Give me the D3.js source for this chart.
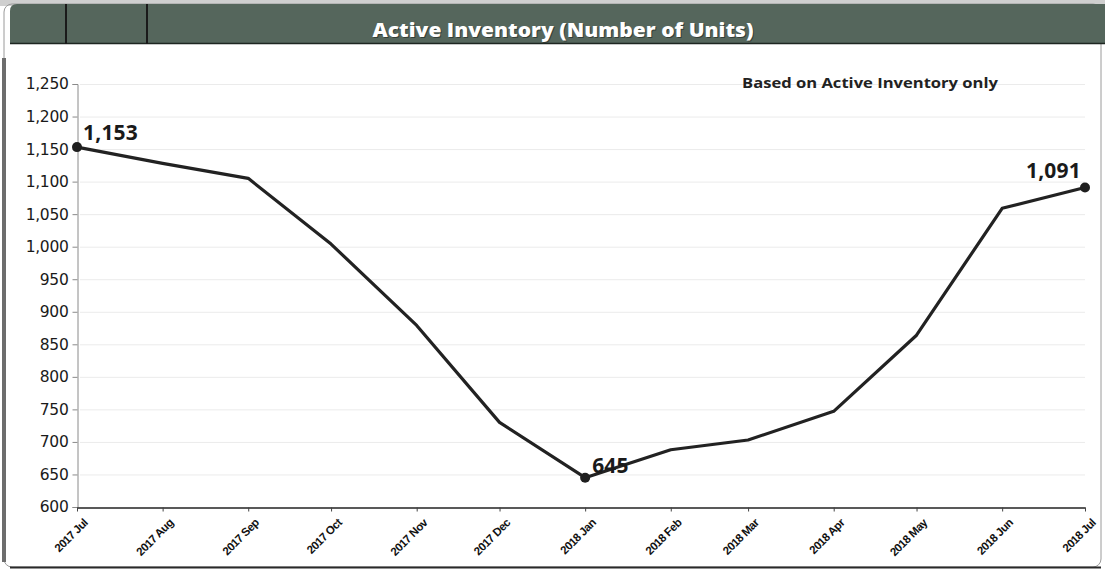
<!DOCTYPE html>
<html>
<head>
<meta charset="utf-8">
<script src="https://cdn.jsdelivr.net/npm/d3@7"></script>
<style>
  html, body { margin: 0; padding: 0; background: #ffffff; }
  svg { display: block; font-family: "Open Sans", "Noto Sans", sans-serif; }
</style>
</head>
<body>
<svg id="chart" width="1105" height="571"></svg>
<script>
// Monthly active inventory, July 2017 through July 2018
const months = ["2017-07-01","2017-08-01","2017-09-01","2017-10-01","2017-11-01","2017-12-01",
                "2018-01-01","2018-02-01","2018-03-01","2018-04-01","2018-05-01","2018-06-01","2018-07-01"];
const monthLabels = ["2017 Jul","2017 Aug","2017 Sep","2017 Oct","2017 Nov","2017 Dec",
                     "2018 Jan","2018 Feb","2018 Mar","2018 Apr","2018 May","2018 Jun","2018 Jul"];
const units = [1153, 1128, 1105, 1004, 879, 730, 645, 688, 703, 747, 864, 1059, 1091];
const yTicks = [600, 650, 700, 750, 800, 850, 900, 950, 1000, 1050, 1100, 1150, 1200, 1250];
const labelledIdx = [0, 6, 12];

const title = "Active Inventory (Number of Units)";
const note = "Based on Active Inventory only";

const svg = d3.select("#chart");
const W = 1105, H = 571;

const parse = d3.timeParse("%Y-%m-%d");
const dates = months.map(parse);
const data = dates.map((d, i) => ({ date: d, value: units[i], label: monthLabels[i] }));

// Panel frame
svg.append("rect").attr("x", 0).attr("y", 0).attr("width", W).attr("height", H).attr("fill", "#ffffff");
svg.append("rect").attr("x", 0).attr("y", 0).attr("width", W).attr("height", 6).attr("fill", "#cfcfcf");
svg.append("rect").attr("x", 4).attr("y", 4).attr("width", 1097).attr("height", 563)
  .attr("rx", 8).attr("fill", "none").attr("stroke", "#9a9a9a").attr("stroke-width", 1);
svg.append("rect").attr("x", 2).attr("y", 58).attr("width", 4).attr("height", 504).attr("fill", "#6d6d6d");
svg.append("line").attr("x1", 10).attr("x2", 1101).attr("y1", 567.5).attr("y2", 567.5)
  .attr("stroke", "#2a2a2a").attr("stroke-width", 2);

// Header band
const headerPath = (x, y, w, h, r) =>
  `M${x},${y + h} L${x},${y + r} Q${x},${y} ${x + r},${y} L${x + w},${y} L${x + w},${y + h} Z`;
svg.append("path").attr("d", headerPath(10, 4, 1095, 40, 7)).attr("fill", "#55665c");
svg.append("line").attr("x1", 10).attr("x2", 1105).attr("y1", 43.5).attr("y2", 43.5)
  .attr("stroke", "#1e2621").attr("stroke-width", 1.5);
[66, 147].forEach(x => {
  svg.append("line").attr("x1", x).attr("x2", x).attr("y1", 4).attr("y2", 44)
    .attr("stroke", "#1a1a1a").attr("stroke-width", 2);
});
svg.append("text").attr("x", 563).attr("y", 37).attr("text-anchor", "middle")
  .attr("fill", "#1d2420").attr("opacity", 0.6)
  .attr("font-size", 20).attr("font-weight", 800)
  .attr("textLength", 381).attr("lengthAdjust", "spacingAndGlyphs")
  .attr("transform", "translate(1,1)")
  .text(title);
svg.append("text").attr("x", 563).attr("y", 37).attr("text-anchor", "middle")
  .attr("fill", "#ffffff")
  .attr("font-size", 20).attr("font-weight", 800)
  .attr("textLength", 381).attr("lengthAdjust", "spacingAndGlyphs")
  .text(title);

// Scales
const x = d3.scaleTime().domain(d3.extent(dates)).range([77, 1085]);
const y = d3.scaleLinear().domain([600, 1250]).range([507, 84]);

// Gridlines
svg.append("g").selectAll("line").data(yTicks.slice(1)).join("line")
  .attr("x1", 80).attr("x2", 1085)
  .attr("y1", d => y(d) + 0.5).attr("y2", d => y(d) + 0.5)
  .attr("stroke", "#ebebeb").attr("stroke-width", 1);

// Y axis
const yAxis = svg.append("g").attr("transform", "translate(77.5,0)")
  .call(d3.axisLeft(y).tickValues(yTicks).tickFormat(d3.format(",")).tickSize(5).tickPadding(4));
yAxis.select(".domain").attr("stroke", "#8a8a8a");
yAxis.selectAll(".tick line").attr("stroke", "#8a8a8a");
yAxis.selectAll(".tick text").attr("fill", "#1a1a1a").attr("font-size", 15.5)
  .attr("font-family", "'DejaVu Sans', sans-serif").attr("letter-spacing", "-0.3px");

// X axis
const xAxis = svg.append("g").attr("transform", "translate(0,507.5)")
  .call(d3.axisBottom(x).tickValues(dates).tickFormat((d, i) => monthLabels[i]).tickSize(4).tickSizeOuter(0));
xAxis.select(".domain").attr("stroke", "#222222").attr("stroke-width", 1.5);
xAxis.selectAll(".tick line").attr("stroke", "#444444");
xAxis.selectAll(".tick text")
  .attr("fill", "#111111").attr("font-size", 11.5).attr("font-weight", 700)
  .attr("letter-spacing", "-0.5px")
  .attr("text-anchor", "end")
  .attr("dy", null).attr("y", 0)
  .attr("transform", "translate(11,16) rotate(-45)");

// Series line
const line = d3.line().x(d => x(d.date)).y(d => y(d.value));
svg.append("path").datum(data).attr("d", line)
  .attr("fill", "none").attr("stroke", "#222222").attr("stroke-width", 3.2)
  .attr("stroke-linejoin", "round");

// Highlighted points and their values
const fmt = d3.format(",");
const pts = labelledIdx.map(i => data[i]);
svg.append("g").selectAll("circle").data(pts).join("circle")
  .attr("cx", d => x(d.date)).attr("cy", d => y(d.value)).attr("r", 5)
  .attr("fill", "#1e1e1e");

const labelPos = [
  { dx: 6, dy: -7, anchor: "start" },
  { dx: 7, dy: -5, anchor: "start" },
  { dx: -4, dy: -9, anchor: "end" }
];
svg.append("g").selectAll("text").data(pts).join("text")
  .attr("x", (d, i) => x(d.date) + labelPos[i].dx)
  .attr("y", (d, i) => y(d.value) + labelPos[i].dy)
  .attr("text-anchor", (d, i) => labelPos[i].anchor)
  .attr("font-size", 21).attr("font-weight", 700).attr("fill", "#1a1a1a")
  .attr("letter-spacing", "0.2px")
  .text(d => fmt(d.value));

// Note
svg.append("text").attr("x", 742).attr("y", 88)
  .attr("font-size", 14).attr("font-weight", 700).attr("fill", "#222222")
  .attr("textLength", 256).attr("lengthAdjust", "spacingAndGlyphs")
  .text(note);
</script>
</body>
</html>
